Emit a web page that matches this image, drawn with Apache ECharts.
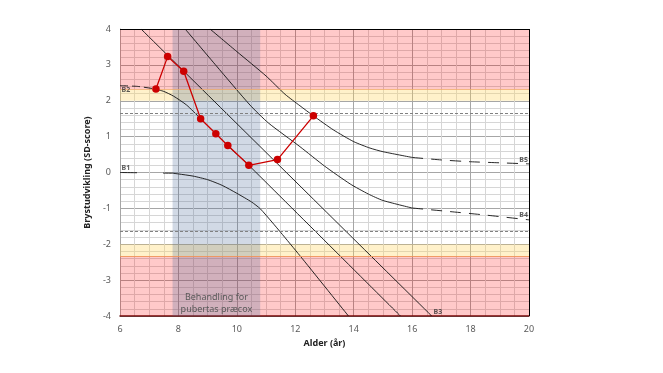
<!DOCTYPE html>
<html>
<head>
<meta charset="utf-8">
<script src="https://cdn.jsdelivr.net/npm/echarts@6/dist/echarts.min.js"></script>
<style>html,body{margin:0;padding:0;background:#fff}#c{width:663px;height:373px}</style>
</head>
<body>
<div id="c"></div>
<script>
// ---- data ----
const xTicks = [6, 8, 10, 12, 14, 16, 18, 20];
const yTicks = [-4, -3, -2, -1, 0, 1, 2, 3, 4];
const patient = [[7.23,2.33],[7.63,3.23],[8.18,2.82],[8.76,1.5],[9.28,1.08],[9.69,0.75],[10.41,0.2],[11.39,0.36],[12.62,1.58]];
const b1Dash = [[6,0],[7.8,-0.02]];
const b1 = [[7.8,-0.02],[8,-0.04],[8.5,-0.1],[9,-0.2],[9.5,-0.36],[10,-0.58],[10.5,-0.82],[10.8,-1.01],[11.2,-1.38],[11.5,-1.67],[12.16,-2.32],[13.82,-4]];
const b2Dash = [[6,2.42],[6.6,2.4],[7.2,2.33]];
const b2 = [[7.2,2.33],[7.5,2.26],[7.83,2.13],[8.28,1.88],[8.76,1.5],[9.28,1.08],[9.69,0.75],[10.41,0.2],[15.6,-4]];
const b3 = [[6.72,4],[16.67,-4]];
const b4 = [[8.23,4],[9.3,2.97],[10.45,1.88],[11.08,1.38],[12.16,0.72],[13.0,0.18],[13.88,-0.32],[14.5,-0.6],[15.0,-0.78],[16,-0.99]];
const b4Dash = [[16,-0.99],[17.3,-1.09],[18.44,-1.18],[20,-1.32]];
const b5 = [[9.08,4],[10,3.37],[11,2.69],[11.65,2.18],[12.16,1.86],[12.62,1.58],[13.3,1.19],[14,0.86],[14.56,0.68],[15,0.58],[16,0.42]];
const b5Dash = [[16,0.42],[17,0.35],[18,0.3],[19,0.27],[20,0.24]];
const curveLabels = [
  {name:'B1', value:[6.02,0.13], pos:'right'},
  {name:'B2', value:[6.02,2.3], pos:'right'},
  {name:'B5', value:[20,0.36], pos:'left'},
  {name:'B4', value:[20,-1.18], pos:'left'},
  {name:'B3', value:[16.7,-3.9], pos:'right'}
];
const redBand = 2.33, yellowBand = 2.0, dashLevel = 1.645;
const treatment = [7.8, 10.8];
const treatmentText = 'Behandling for\npubertas præcox';

const FONT = 'Noto Sans';
const chart = echarts.init(document.getElementById('c'), null, {renderer:'canvas'});
function curve(data, dashed, dashPattern) {
  return {
    type:'line', data:data, showSymbol:false, smooth:0.2,
    lineStyle:{color:'#111', width:0.9, type: dashed ? dashPattern : 'solid'},
    silent:true, z:4, animation:false
  };
}
chart.setOption({
  animation:false,
  backgroundColor:'#fff',
  grid:{left:120, right:134, top:29, bottom:57},
  xAxis:{
    type:'value', min:6, max:20, interval:2,
    name:'Alder (år)', nameLocation:'middle', nameGap:22,
    nameTextStyle:{fontFamily:FONT, fontSize:9, fontWeight:'bold', color:'#222'},
    axisLine:{show:true, onZero:false, lineStyle:{color:'#5a0a0a', width:1.5}},
    axisTick:{show:false},
    axisLabel:{fontFamily:FONT, fontSize:9, color:'#595959', margin:9,
      formatter:v => xTicks.includes(v) ? String(v) : ''},
    splitLine:{show:true, lineStyle:{color:'#a6a6a6', width:1}},
    minorTick:{show:false, splitNumber:4},
    minorSplitLine:{show:true, lineStyle:{color:'#d6d6d6', width:1}}
  },
  yAxis:{
    type:'value', min:-4, max:4, interval:1,
    name:'Brystudvikling (SD-score)', nameLocation:'middle', nameGap:26, nameRotate:90,
    nameTextStyle:{fontFamily:FONT, fontSize:9, fontWeight:'bold', color:'#222'},
    axisLine:{show:true, onZero:false, lineStyle:{color:'#a6a6a6', width:1}},
    axisTick:{show:false},
    axisLabel:{fontFamily:FONT, fontSize:9, color:'#595959', margin:9,
      formatter:v => yTicks.includes(v) ? String(v) : ''},
    splitLine:{show:true, lineStyle:{color:'#a6a6a6', width:1}},
    minorTick:{show:false, splitNumber:5},
    minorSplitLine:{show:true, lineStyle:{color:'#d6d6d6', width:1}}
  },
  series:[
    { // background bands
      type:'line', data:[], silent:true, z:1,
      markArea:{silent:true, data:[
        [{yAxis:redBand, itemStyle:{color:'rgba(255,0,0,0.21)'}}, {yAxis:4}],
        [{yAxis:-4, itemStyle:{color:'rgba(255,0,0,0.21)'}}, {yAxis:-redBand}],
        [{yAxis:yellowBand, itemStyle:{color:'rgba(255,210,90,0.32)'}}, {yAxis:redBand}],
        [{yAxis:-redBand, itemStyle:{color:'rgba(255,210,90,0.32)'}}, {yAxis:-yellowBand}]
      ]},
      markLine:{silent:true, symbol:'none', label:{show:false}, data:[
        {yAxis:dashLevel, lineStyle:{color:'#808080', type:[3,2], width:1}},
        {yAxis:-dashLevel, lineStyle:{color:'#808080', type:[3,2], width:1}},
        {yAxis:redBand, lineStyle:{color:'rgba(240,160,100,0.7)', type:'solid', width:1}},
        {yAxis:-redBand, lineStyle:{color:'rgba(240,150,90,0.9)', type:'solid', width:1}}
      ]}
    },
    { // treatment band
      type:'line', data:[], silent:true, z:2,
      markArea:{silent:true,
        itemStyle:{color:'rgba(70,105,150,0.25)'},
        label:{show:true, position:'insideBottom', distance:1, color:'#595959',
          fontFamily:FONT, fontSize:9, lineHeight:12},
        data:[[{xAxis:treatment[0], name:treatmentText}, {xAxis:treatment[1]}]]
      },
      markLine:{silent:true, symbol:'none', label:{show:false}, z:10, data:[
        {yAxis:4, lineStyle:{color:'#000', type:'solid', width:1}},
        {xAxis:20, lineStyle:{color:'#000', type:'solid', width:1}}
      ]}
    },
    curve(b1Dash, true, [17,26]),
    curve(b1, false),
    curve(b2Dash, true, [8,4]),
    curve(b2, false),
    curve(b3, false),
    curve(b4, false),
    curve(b4Dash, true, [11,8]),
    curve(b5, false),
    curve(b5Dash, true, [11,8]),
    {
      type:'line', data:patient, z:6, smooth:false,
      symbol:'circle', symbolSize:7.5,
      lineStyle:{color:'#cc0000', width:1.3},
      itemStyle:{color:'#cc0000'}
    },
    {
      type:'scatter', symbolSize:0, z:7, silent:true,
      data:curveLabels.map(d => ({name:d.name, value:d.value,
        label:{show:true, position:d.pos, distance:1, formatter:d.name,
          fontFamily:FONT, fontSize:7, fontWeight:'bold', color:'#333'}}))
    }
  ]
});
</script>
</body>
</html>
